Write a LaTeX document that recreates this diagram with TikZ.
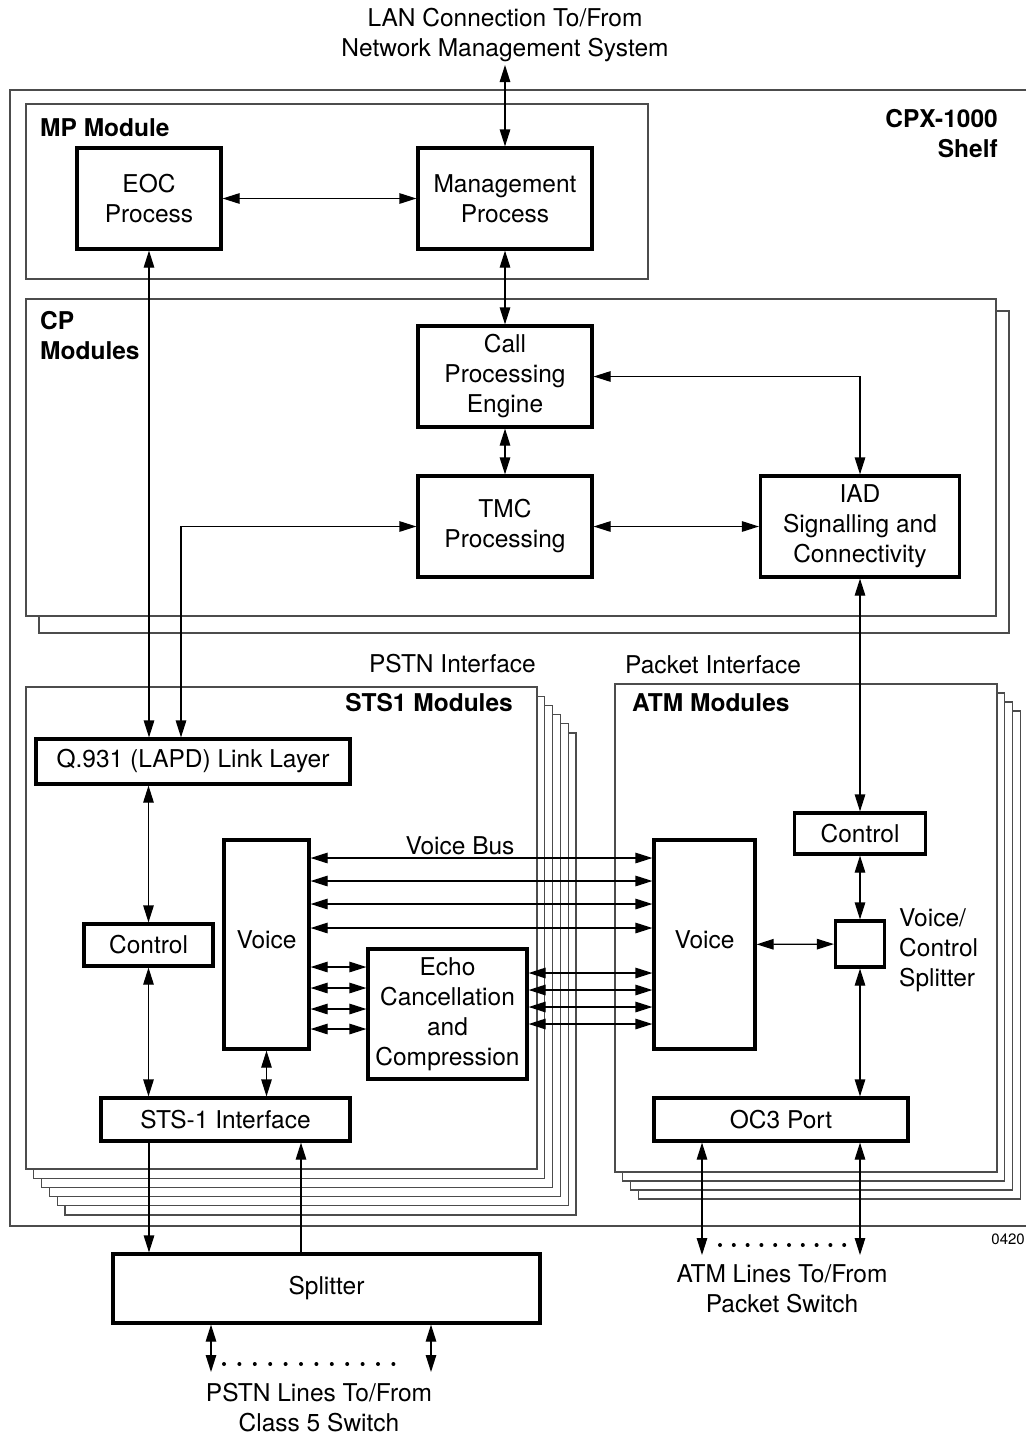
\documentclass[tikz,border=0pt]{standalone}
\usepackage{fontspec}
\setmainfont{TeX Gyre Heros}
\usetikzlibrary{arrows.meta}

\newcommand\diagfont{\fontsize{24.5}{30}\selectfont}
\tikzset{
    blk/.style = {draw, line width = 3.2pt, fill = white, align = center, inner sep = 0pt, font = \diagfont},
    modbox/.style = {draw = black!70, line width = 1.2pt, fill = white},
    lbl/.style = {inner sep = 0pt, font = \diagfont},
    link/.style = {line width = 1.2pt, {Triangle[length=17pt,width=10.5pt]}-{Triangle[length=17pt,width=10.5pt]}},
    tolink/.style = {line width = 1.2pt, -{Triangle[length=17pt,width=10.5pt]}}
}

\begin{document}
\begin{tikzpicture}[x=1pt, y=-1pt]
    \useasboundingbox (0,0) rectangle (1026,1435);

    % shelf (its right side lies outside the picture)
    \draw[black!70, line width = 1.2pt] (1026,90) -- (10,90) -- (10,1226) -- (1026,1226);
    \node[lbl, font = \diagfont\bfseries, align = right, anchor = north east] (shelf) at (998,109) {CPX-1000\\Shelf};
    \node[lbl, align = center, anchor = north] (lan) at (505,8) {LAN Connection To/From\\Network Management System};
    \coordinate (lanend) at (505,65);

    % module frames
    \draw[modbox] (26,104) rectangle (648,279);
    \node[lbl, font = \diagfont\bfseries, anchor = base west] (mplbl) at (40,136) {MP Module};

    \draw[modbox] (39,311) rectangle (1009,633); % shadow of the CP card
    \draw[modbox] (26,299) rectangle (996,616);
    \node[lbl, font = \diagfont\bfseries, align = left, anchor = north west] (cplbl) at (40,311) {CP\\Modules};

    \foreach \i in {5,4,...,1} { % stacked STS1 cards, back to front
        \draw[modbox] (26+7.8*\i, 687+9.2*\i) rectangle (537+7.8*\i, 1169+9.2*\i);
    }
    \draw[modbox] (26,687) rectangle (537,1169);
    \node[lbl, font = \diagfont\bfseries, anchor = base east] (stslbl) at (513,711) {STS1 Modules};
    \node[lbl, anchor = base east] (pstnif) at (536,672) {PSTN Interface};

    \foreach \i in {3,2,1} { % stacked ATM cards
        \draw[modbox] (615+7.8*\i, 684+9*\i) rectangle (997+7.8*\i, 1172+9*\i);
    }
    \draw[modbox] (615,684) rectangle (997,1172);
    \node[lbl, font = \diagfont\bfseries, anchor = base west] (atmlbl) at (632,711) {ATM Modules};
    \node[lbl, anchor = base west] (pktif) at (625,673) {Packet Interface};

    % blocks
    \node[blk, minimum width = 144, minimum height = 101] (eoc) at (149,198.5) {EOC\\Process};
    \node[blk, minimum width = 174, minimum height = 101] (mgmt) at (505,198.5) {Management\\Process};
    \node[blk, minimum width = 174, minimum height = 101] (cpe) at (505,376.5) {Call\\Processing\\Engine};
    \node[blk, minimum width = 174, minimum height = 101] (tmc) at (505,526.5) {TMC\\Processing};
    \node[blk, minimum width = 199, minimum height = 101] (iad) at (860,526.5) {IAD\\Signalling and\\Connectivity};

    \node[blk, minimum width = 314, minimum height = 45] (q931) at (193,761.5) {Q.931 (LAPD) Link Layer};
    \node[blk, minimum width = 129, minimum height = 42] (ctrlL) at (148.5,945) {Control};
    \node[blk, minimum width = 85, minimum height = 209, text depth = 10pt] (voiceL) at (266.5,944.5) {Voice};
    \node[blk, minimum width = 159, minimum height = 130] (echo) at (447.5,1014) {Echo\\Cancellation\\and\\Compression};
    \node[blk, minimum width = 249, minimum height = 43] (stsif) at (225.5,1119.5) {STS-1 Interface};
    \node[blk, minimum width = 427, minimum height = 69] (splitter) at (326.5,1288.5) {Splitter};

    \node[blk, minimum width = 131, minimum height = 41] (ctrlR) at (860,833.5) {Control};
    \node[blk, minimum width = 49, minimum height = 46] (vcsplit) at (860,944) {};
    \node[lbl, align = left, anchor = north west] (vclbl) at (899,908) {Voice/\\Control\\Splitter};
    \node[blk, minimum width = 101, minimum height = 209, text depth = 10pt] (voiceR) at (704.5,944.5) {Voice};
    \node[blk, minimum width = 254, minimum height = 43] (oc3) at (781,1119.5) {OC3 Port};

    \node[lbl, anchor = base] (buslbl) at (460,854) {Voice Bus};
    \node[lbl, align = center, anchor = north] (atmlines) at (782,1264) {ATM Lines To/From\\Packet Switch};
    \node[lbl, align = center, anchor = north] (pstnlines) at (319,1383) {PSTN Lines To/From\\Class 5 Switch};
    \node[inner sep = 0pt, font = \fontsize{15}{17}\selectfont, anchor = base east] (fig) at (1025,1244) {0420};

    % connectors
    \draw[link] (lanend) -- (mgmt.north);
    \draw[link] (eoc) -- (mgmt);
    \draw[link] (mgmt) -- (cpe);
    \draw[link] (cpe) -- (tmc);
    \draw[link] (tmc) -- (iad);
    \draw[link] (cpe.east) -| (iad.north);
    \draw[link] (eoc.south) -- (eoc.south |- q931.north);
    \coordinate (tmcdrop) at (181,700);
    \draw[link] (q931.north -| tmcdrop) |- (tmc.west);
    \draw[link] (iad.south) -- (iad.south |- ctrlR.north);
    \draw[link] (ctrlR) -- (vcsplit);
    \draw[link] (vcsplit) -- (vcsplit |- oc3.north);
    \draw[link] (voiceR) -- (vcsplit);

    \foreach \y in {858,881,904,928} { % voice bus
        \coordinate (lvl) at (0,\y);
        \draw[link] (voiceL.east |- lvl) -- (voiceR.west |- lvl);
    }
    \foreach \y in {967,988,1009,1029} {
        \coordinate (lvl) at (0,\y);
        \draw[link] (voiceL.east |- lvl) -- (echo.west |- lvl);
    }
    \foreach \y in {973,990,1007,1024} {
        \coordinate (lvl) at (0,\y);
        \draw[link] (echo.east |- lvl) -- (voiceR.west |- lvl);
    }

    \draw[link] (q931.south -| ctrlL) -- (ctrlL.north);
    \draw[link] (ctrlL.south) -- (ctrlL.south |- stsif.north);
    \draw[link] (voiceL.south) -- (voiceL.south |- stsif.north);

    \coordinate (dn) at (149,0);
    \coordinate (up) at (301,0);
    \draw[tolink] (stsif.south -| dn) -- (splitter.north -| dn);
    \draw[tolink] (splitter.north -| up) -- (stsif.south -| up);

    \coordinate (pl) at (211,1372);
    \coordinate (pr) at (431,1372);
    \draw[link] (splitter.south -| pl) -- (pl);
    \draw[link] (splitter.south -| pr) -- (pr);
    \foreach \k in {0,...,11} \fill (224+15.4*\k,1364) circle (2);

    \coordinate (al) at (702,1255);
    \coordinate (ar) at (860,1255);
    \draw[link] (oc3.south -| al) -- (al);
    \draw[link] (oc3.south -| ar) -- (ar);
    \foreach \k in {0,...,9} \fill (720+13.8*\k,1245) circle (2);
\end{tikzpicture}
\end{document}
